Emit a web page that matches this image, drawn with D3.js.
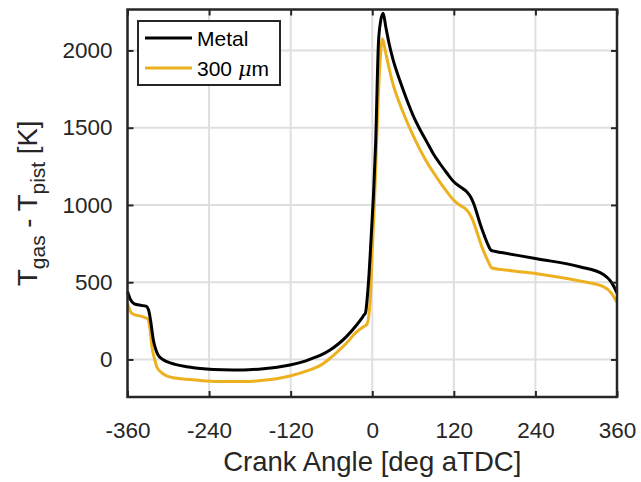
<!DOCTYPE html>
<html>
<head>
<meta charset="utf-8">
<script src="https://cdn.jsdelivr.net/npm/d3@7"></script>
<style>
  body { margin: 0; background: #fff; }
  text { font-family: "Liberation Sans", Arial, Helvetica, sans-serif; fill: #262626; }
</style>
</head>
<body>
<div id="chartDiv"></div>
<script>
var width = 641;
var height = 482;
var margin = { top: 9.5, right: 24, bottom: 85, left: 127.5 };
var chartWidth = width - margin.left - margin.right;
var chartHeight = height - margin.top - margin.bottom;

// crank angle [deg aTDC] and T_gas - T_pist [K]
var metalAngle = [-360, -356, -350, -340, -333, -329, -326, -322, -318, -315, -308, -302, -290, -273, -244, -220, -190, -160, -140, -121, -100, -92, -75, -62, -50, -38, -23, -12, -10, -6, 0, 2, 5, 9, 12, 16, 20, 25, 30, 41, 50, 60, 70, 80, 90, 100, 110, 120, 130, 139, 145, 150, 155, 160, 165, 170, 175, 180, 190, 242, 305, 340, 350, 355, 360];
var metalTemp = [440, 390, 360, 350, 345, 320, 250, 126, 60, 29, 0, -14, -32, -47, -61, -66, -68, -60, -50, -36, -12, 1, 30, 61, 100, 148, 223, 288, 300, 471, 920, 1080, 1400, 2036, 2180, 2240, 2150, 2040, 1950, 1800, 1690, 1580, 1490, 1410, 1330, 1265, 1205, 1150, 1115, 1086, 1050, 1000, 930, 860, 800, 745, 706, 700, 692, 652, 600, 550, 510, 475, 430];

var coatAngle = [-360, -355, -350, -340, -332, -330, -327, -324, -320, -317, -310, -302, -290, -273, -244, -220, -190, -160, -121, -92, -75, -62, -50, -38, -25, -13, -8, -3, 0, 4, 6.5, 11, 15, 20, 25, 30, 40, 50, 60, 70, 80, 90, 100, 110, 120, 130, 136, 142, 148, 155, 163, 170, 176, 190, 217, 242, 305, 340, 352, 356, 360];
var coatTemp = [364, 305, 290, 280, 267, 262, 200, 80, 0, -47, -85, -107, -120, -128, -139, -143, -143, -135, -107, -68, -35, 8, 55, 105, 170, 212, 226, 385, 700, 1100, 1421, 1895, 2075, 1980, 1880, 1790, 1660, 1550, 1450, 1360, 1280, 1210, 1145, 1085, 1030, 995, 979, 950, 900, 810, 709, 640, 592, 582, 568, 555, 508, 471, 428, 400, 370];

var xTicks = [-360, -240, -120, 0, 120, 240, 360];
var yTicks = [0, 500, 1000, 1500, 2000];
var seriesNames = ["Metal", "300 "];
var seriesColors = ["#000000", "#EDB120"];

var x = d3.scaleLinear().domain([-360, 360]).range([0, chartWidth]);
var y = d3.scaleLinear().domain([-243, 2265]).range([chartHeight, 0]);

var chart = d3.select("#chartDiv").append("svg")
    .attr("width", width)
    .attr("height", height);

var plot = chart.append("g")
    .attr("transform", "translate(" + margin.left + "," + margin.top + ")");

// grid
plot.selectAll(".vgrid").data(xTicks).enter().append("line")
    .attr("x1", function(d) { return x(d); }).attr("x2", function(d) { return x(d); })
    .attr("y1", 0).attr("y2", chartHeight)
    .style("stroke", "#dfdfdf").style("stroke-width", 2);
plot.selectAll(".hgrid").data(yTicks).enter().append("line")
    .attr("y1", function(d) { return y(d); }).attr("y2", function(d) { return y(d); })
    .attr("x1", 0).attr("x2", chartWidth)
    .style("stroke", "#dfdfdf").style("stroke-width", 2);

// curves
var line = d3.line()
    .x(function(d) { return x(d[0]); })
    .y(function(d) { return y(d[1]); })
    .curve(d3.curveMonotoneX);

var metal = d3.zip(metalAngle, metalTemp);
var coat = d3.zip(coatAngle, coatTemp);

plot.append("path").datum(coat).attr("d", line)
    .style("fill", "none").style("stroke", seriesColors[1]).style("stroke-width", 3);
plot.append("path").datum(metal).attr("d", line)
    .style("fill", "none").style("stroke", seriesColors[0]).style("stroke-width", 3);

// axes (ticks inside, on all four sides)
var plain = function(d) { return String(d); };
var xAxis = d3.axisBottom(x).tickValues(xTicks).tickFormat(plain).tickSizeInner(-6).tickSizeOuter(0).tickPadding(34);
var yAxis = d3.axisLeft(y).tickValues(yTicks).tickFormat(plain).tickSizeInner(-6).tickSizeOuter(0).tickPadding(15);

var gx = plot.append("g").attr("transform", "translate(0," + chartHeight + ")").call(xAxis);
var gy = plot.append("g").call(yAxis);
plot.append("g").call(d3.axisTop(x).tickValues(xTicks).tickSizeInner(-6).tickSizeOuter(0).tickFormat(""));
plot.append("g").attr("transform", "translate(" + chartWidth + ",0)")
    .call(d3.axisRight(y).tickValues(yTicks).tickSizeInner(-6).tickSizeOuter(0).tickFormat(""));

plot.selectAll(".domain").remove();
plot.selectAll(".tick line").style("stroke", "#262626").style("stroke-width", 2);
gx.selectAll("text").style("font-size", "22.5px").style("fill", "#262626").attr("dy", "0.32em");
gy.selectAll("text").style("font-size", "22.5px").style("fill", "#262626");

plot.append("rect")
    .attr("width", chartWidth).attr("height", chartHeight)
    .style("fill", "none").style("stroke", "#262626").style("stroke-width", 2.5);

// axis labels
chart.append("text")
    .attr("text-anchor", "middle")
    .attr("x", margin.left + chartWidth / 2)
    .attr("y", 471)
    .style("font-size", "27.5px")
    .text("Crank Angle [deg aTDC]");

var ylab = chart.append("text")
    .attr("text-anchor", "middle")
    .attr("transform", "translate(37," + (margin.top + chartHeight / 2) + ") rotate(-90)")
    .style("font-size", "27.5px");
ylab.append("tspan").text("T");
ylab.append("tspan").attr("dy", 8).style("font-size", "21px").text("gas");
ylab.append("tspan").attr("dy", -8).text(" - T");
ylab.append("tspan").attr("dy", 8).style("font-size", "21px").text("pist");
ylab.append("tspan").attr("dy", -8).text(" [K]");

// legend
var legend = chart.append("g");
legend.append("rect")
    .attr("x", 138).attr("y", 21).attr("width", 142).attr("height", 64)
    .style("fill", "#fff").style("stroke", "#262626").style("stroke-width", 2);

seriesNames.forEach(function(name, i) {
    var ly = 38 + i * 30;
    legend.append("line")
        .attr("x1", 145).attr("x2", 192).attr("y1", ly).attr("y2", ly)
        .style("stroke", seriesColors[i]).style("stroke-width", 3);
    var t = legend.append("text")
        .attr("x", 197).attr("y", ly + 7.5)
        .style("font-size", "21px")
        .style("fill", "#000");
    t.append("tspan").text(name);
    if (i === 1) {
        t.append("tspan").style("font-style", "italic").style("font-family", "'DejaVu Serif', serif").text("\u03bc");
        t.append("tspan").text("m");
    }
});
</script>
</body>
</html>
